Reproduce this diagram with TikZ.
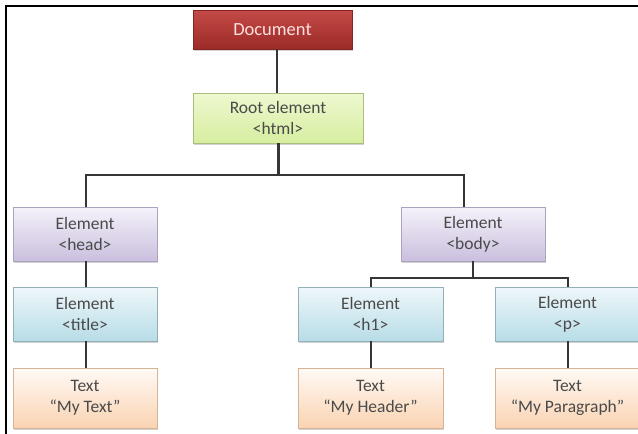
\documentclass[tikz,border=0pt]{standalone}
\usepackage{fontspec}
\setmainfont{Carlito}
\usetikzlibrary{shadows,calc}
\definecolor{linec}{HTML}{363636}
\definecolor{txt}{HTML}{4A4A4A}
\definecolor{docT}{HTML}{C44B47}
\definecolor{docB}{HTML}{9C2A27}
\definecolor{rootT}{HTML}{EEF8D0}
\definecolor{rootB}{HTML}{D6EEA0}
\definecolor{purT}{HTML}{F5F2FA}
\definecolor{purB}{HTML}{CABFDE}
\definecolor{bluT}{HTML}{EEF7FA}
\definecolor{bluB}{HTML}{B8DCE7}
\definecolor{pchT}{HTML}{FFFAF5}
\definecolor{pchB}{HTML}{FAD3B2}
\tikzset{
  box/.style={draw, line width=0.6pt, align=center, inner sep=0pt,
    font=\fontsize{17.5}{21}\selectfont, text=txt,
    drop shadow={shadow xshift=1.2pt, shadow yshift=-1.6pt, opacity=0.35, fill=gray}},
  docbox/.style={box, draw=docB!85!black, top color=docT, bottom color=docB,
    text=red!12!white, font=\fontsize{18.5}{21}\selectfont},
  rootbox/.style={box, draw=rootB!80!black, top color=rootT, bottom color=rootB},
  purbox/.style={box, draw=purB!85!black, top color=purT, bottom color=purB},
  bluebox/.style={box, draw=bluB!80!black, top color=bluT, bottom color=bluB},
  pchbox/.style={box, draw=pchB!85!black, top color=pchT, bottom color=pchB},
  conn/.style={draw=linec, line width=2pt},
}
\begin{document}
\begin{tikzpicture}[x=1pt,y=-1pt]
\useasboundingbox (0,0) rectangle (638,434);
\clip (0,0) rectangle (638,434);
\fill[white] (0,0) rectangle (638,434);
% frame
\coordinate (fTL) at (6,6);
\coordinate (fTR) at (640,6);
\coordinate (fBL) at (6,436);
\draw[line width=2.2pt, black] (fTR) -- (fTL) -- (fBL);
% nodes
\node[docbox, minimum width=159pt, minimum height=39pt] (doc) at (272.5,29.5) {Document};
\node[rootbox, minimum width=170pt, minimum height=50pt] (root) at (278,118) {Root element\\\textless html\textgreater};
\node[purbox, minimum width=144pt, minimum height=54pt] (head) at (85,234) {Element\\\textless head\textgreater};
\node[purbox, minimum width=144pt, minimum height=54pt] (body) at (473,234) {Element\\\textless body\textgreater};
\node[bluebox, minimum width=144pt, minimum height=54pt] (title) at (85,314) {Element\\\textless title\textgreater};
\node[bluebox, minimum width=145pt, minimum height=54pt] (h1) at (370.5,314) {Element\\\textless h1\textgreater};
\node[bluebox, minimum width=145pt, minimum height=54pt] (p) at (567.5,314) {Element\\\textless p\textgreater};
\node[pchbox, minimum width=144pt, minimum height=60pt] (t1) at (85,398) {Text\\``My Text''};
\node[pchbox, minimum width=145pt, minimum height=60pt] (t2) at (370.5,398) {Text\\``My Header''};
\node[pchbox, minimum width=145pt, minimum height=60pt] (t3) at (567.5,398) {Text\\``My Paragraph''};
% connectors
\draw[conn] ($(root.north)+(-1.5,0)$) -- ($(doc.south)+(4,0)$);
\draw[conn, line width=3pt] (root.south) -- ++(0,32) coordinate (j1);
\draw[conn] ($(head.north)+(1,0)$) |- (j1) -| ($(body.north)+(-9,0)$);
\draw[conn] (body.south) -- ++(0,17) coordinate (j2);
\draw[conn] (h1.north) |- (j2) -| (p.north);
\draw[conn] ($(head.south)+(1,0)$) -- ($(title.north)+(1,0)$);
\draw[conn] ($(title.south)+(1,0)$) -- ($(t1.north)+(1,0)$);
\draw[conn] (h1.south) -- (t2.north);
\draw[conn] (p.south) -- (t3.north);
\end{tikzpicture}
\end{document}
